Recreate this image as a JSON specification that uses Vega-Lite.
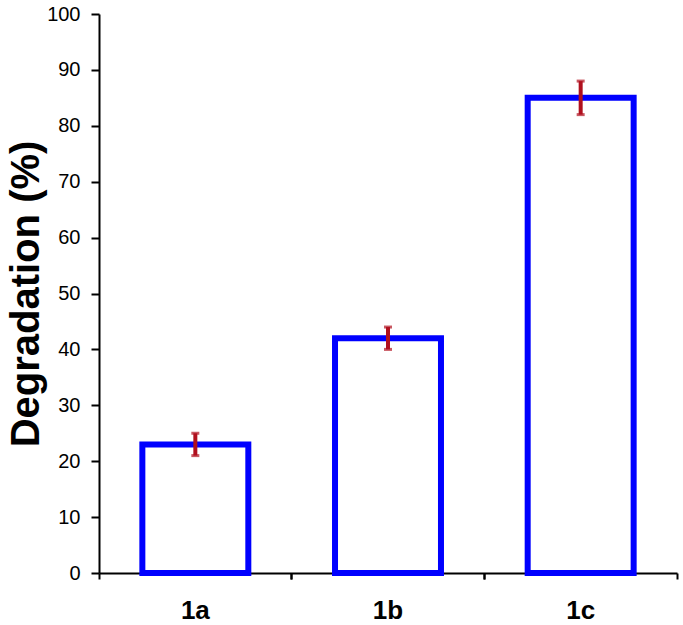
{
  "$schema": "https://vega.github.io/schema/vega-lite/v6.json",
  "width": 578,
  "height": 559,
  "autosize": {"type": "none"},
  "padding": {"left": 99, "top": 14, "right": 6, "bottom": 52},
  "background": "white",
  "data": {"values": [
    {"cat": "1a", "value": 23, "lo": 21, "hi": 25},
    {"cat": "1b", "value": 42, "lo": 40, "hi": 44},
    {"cat": "1c", "value": 85, "lo": 82, "hi": 88}
  ]},
  "config": {
    "view": {"stroke": null},
    "axis": {
      "grid": false,
      "domainColor": "#000",
      "domainWidth": 2,
      "tickColor": "#000",
      "tickWidth": 2,
      "labelColor": "#000",
      "labelFont": "Liberation Sans",
      "titleFont": "Liberation Sans",
      "titleColor": "#000"
    }
  },
  "resolve": {"axis": {"x": "independent"}},
  "layer": [
    {
      "mark": {"type": "bar", "fill": "white", "stroke": "#0000ff", "strokeWidth": 6, "width": {"band": 0.55}},
      "encoding": {
        "x": {"field": "cat", "type": "nominal", "scale": {"paddingInner": 0, "paddingOuter": 0},
              "axis": {"orient": "bottom", "bandPosition": 0, "labels": false, "ticks": true, "tickSize": 6, "domain": true, "title": null}},
        "y": {"field": "value", "type": "quantitative", "title": "Degradation (%)",
              "scale": {"domain": [0, 100], "nice": false},
              "axis": {"values": [0, 10, 20, 30, 40, 50, 60, 70, 80, 90, 100], "titleFontSize": 40, "titleFontWeight": "bold",
                       "labelFontSize": 20, "tickSize": 8, "labelPadding": 11, "titlePadding": 0}}
      }
    },
    {
      "mark": {"type": "rule", "color": "#b0101e", "strokeWidth": 4},
      "encoding": {
        "x": {"field": "cat", "type": "nominal",
              "axis": {"orient": "bottom", "bandPosition": 1, "labels": false, "ticks": true, "tickSize": 6, "domain": false, "title": null}},
        "y": {"field": "lo", "type": "quantitative", "title": "Degradation (%)"},
        "y2": {"field": "hi"}
      }
    },
    {
      "mark": {"type": "tick", "color": "#b0101e", "thickness": 3, "size": 8, "orient": "horizontal"},
      "encoding": {
        "x": {"field": "cat", "type": "nominal",
              "axis": {"orient": "bottom", "labels": true, "ticks": false, "tickSize": 0, "domain": false, "title": null,
                       "labelAngle": 0, "labelFontSize": 26, "labelFontWeight": "bold", "labelPadding": 24}},
        "y": {"field": "lo", "type": "quantitative", "title": "Degradation (%)"}
      }
    },
    {
      "mark": {"type": "tick", "color": "#b0101e", "thickness": 3, "size": 8, "orient": "horizontal"},
      "encoding": {
        "x": {"field": "cat", "type": "nominal", "axis": null},
        "y": {"field": "hi", "type": "quantitative", "title": "Degradation (%)"}
      }
    }
  ]
}
